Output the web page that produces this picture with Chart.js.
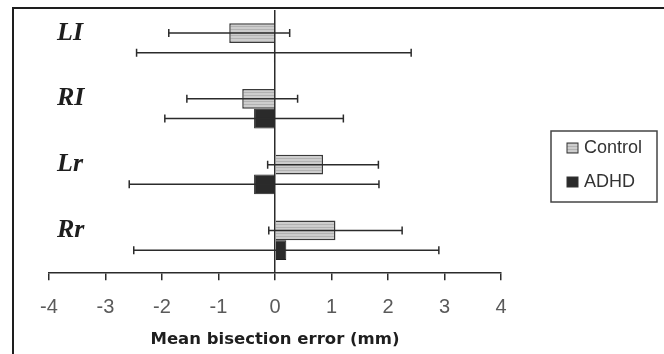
<!DOCTYPE html>
<html>
<head>
<meta charset="utf-8">
<script src="https://cdn.jsdelivr.net/npm/chart.js@4.4.1/dist/chart.umd.min.js"></script>
<style>
  html, body { margin: 0; padding: 0; background: #fff; }
  canvas { display: block; }
</style>
</head>
<body>
<canvas id="myChart" width="664" height="354"></canvas>
<script>
var categories = ["LI", "RI", "Lr", "Rr"],
  seriesNames = ["Control", "ADHD"],
  controlMean = [-0.81, -0.58, 0.85, 1.07],
  controlSD = [1.07, 0.98, 0.98, 1.18],
  adhdMean = [-0.02, -0.37, -0.37, 0.2],
  adhdSD = [2.43, 1.58, 2.21, 2.7],
  xTicks = [-4, -3, -2, -1, 0, 1, 2, 3, 4];

// light grey fill with faint horizontal stripes, like the scanned original
function stripes() {
  var c = document.createElement("canvas");
  c.width = 4; c.height = 3;
  var g = c.getContext("2d");
  g.fillStyle = "#cdcdcd";
  g.fillRect(0, 0, 4, 3);
  g.fillStyle = "#b2b2b2";
  g.fillRect(0, 2, 4, 1);
  return g.createPattern(c, "repeat");
}
var controlFill = stripes();

var errorBars = {
  id: "errorBars",
  afterDatasetsDraw: function(chart) {
    var ctx = chart.ctx, xs = chart.scales.x;
    var sds = [controlSD, adhdSD];
    ctx.save();
    ctx.strokeStyle = "#2b2b2b";
    ctx.lineWidth = 1.5;
    chart.data.datasets.forEach(function(ds, d) {
      chart.getDatasetMeta(d).data.forEach(function(bar, i) {
        var m = ds.data[i], s = sds[d][i];
        var x1 = xs.getPixelForValue(m - s), x2 = xs.getPixelForValue(m + s), y = bar.y;
        ctx.beginPath();
        ctx.moveTo(x1, y); ctx.lineTo(x2, y);
        ctx.moveTo(x1, y - 4); ctx.lineTo(x1, y + 4);
        ctx.moveTo(x2, y - 4); ctx.lineTo(x2, y + 4);
        ctx.stroke();
      });
    });
    ctx.restore();
  }
};

var frameAndLegend = {
  id: "frameAndLegend",
  afterDraw: function(chart) {
    var ctx = chart.ctx;
    ctx.save();
    // outer frame (left and top only, as in the scan)
    ctx.strokeStyle = "#1e1e1e";
    ctx.lineWidth = 2;
    ctx.beginPath();
    ctx.moveTo(13, 354); ctx.lineTo(13, 8); ctx.lineTo(664, 8);
    ctx.stroke();
    // legend
    ctx.strokeStyle = "#444";
    ctx.lineWidth = 1.5;
    ctx.strokeRect(551, 131, 106, 71);
    var ds = chart.data.datasets;
    ctx.font = "18px 'Liberation Sans', Arial, sans-serif";
    ctx.textBaseline = "middle";
    [148, 182].forEach(function(y, i) {
      ctx.fillStyle = ds[i].backgroundColor;
      ctx.fillRect(567, y - 5, 11, 10);
      ctx.strokeStyle = "#333";
      ctx.lineWidth = 1;
      ctx.strokeRect(567, y - 5, 11, 10);
      ctx.fillStyle = "#333";
      ctx.fillText(ds[i].label, 584, y);
    });
    ctx.restore();
  }
};

var config = {
  type: "bar",
  data: {
    labels: categories,
    datasets: [
      {
        label: seriesNames[0],
        data: controlMean,
        backgroundColor: controlFill,
        borderColor: "#3a3a3a",
        borderWidth: 1.5
      },
      {
        label: seriesNames[1],
        data: adhdMean,
        backgroundColor: "#2a2a2a",
        borderColor: "#1e1e1e",
        borderWidth: 1
      }
    ]
  },
  options: {
    indexAxis: "y",
    responsive: false,
    animation: false,
    devicePixelRatio: 1,
    categoryPercentage: 0.6,
    barPercentage: 1,
    layout: { padding: { left: 25, right: 163, top: 10, bottom: 0 } },
    plugins: {
      legend: { display: false },
      tooltip: { enabled: false }
    },
    scales: {
      x: {
        min: xTicks[0],
        max: xTicks[xTicks.length - 1],
        ticks: {
          stepSize: 1,
          color: "#5a5a5a",
          padding: 17,
          font: { family: "'Liberation Sans', Arial, sans-serif", size: 20, lineHeight: 1 }
        },
        grid: {
          color: function(c) { return c.tick && c.tick.value === 0 ? "#2b2b2b" : "rgba(0,0,0,0)"; },
          lineWidth: 1.5,
          tickColor: "#2b2b2b",
          tickLength: 7
        },
        border: { display: true, color: "#2b2b2b", width: 1.5 },
        title: {
          display: true,
          text: "Mean bisection error (mm)",
          color: "#1e1e1e",
          padding: { top: -4, bottom: 4 },
          font: { family: "'DejaVu Sans', sans-serif", size: 16.5, weight: "bold" }
        }
      },
      y: {
        grid: { display: false },
        border: { display: false },
        ticks: {
          mirror: true,
          padding: 8,
          labelOffset: -10,
          color: "#1e1e1e",
          font: { family: "'Liberation Serif', 'Times New Roman', serif", size: 26, style: "italic", weight: "bold", lineHeight: 0.1 }
        }
      }
    }
  },
  plugins: [errorBars, frameAndLegend]
};

var myChart = new Chart(document.getElementById("myChart"), config);
</script>
</body>
</html>
